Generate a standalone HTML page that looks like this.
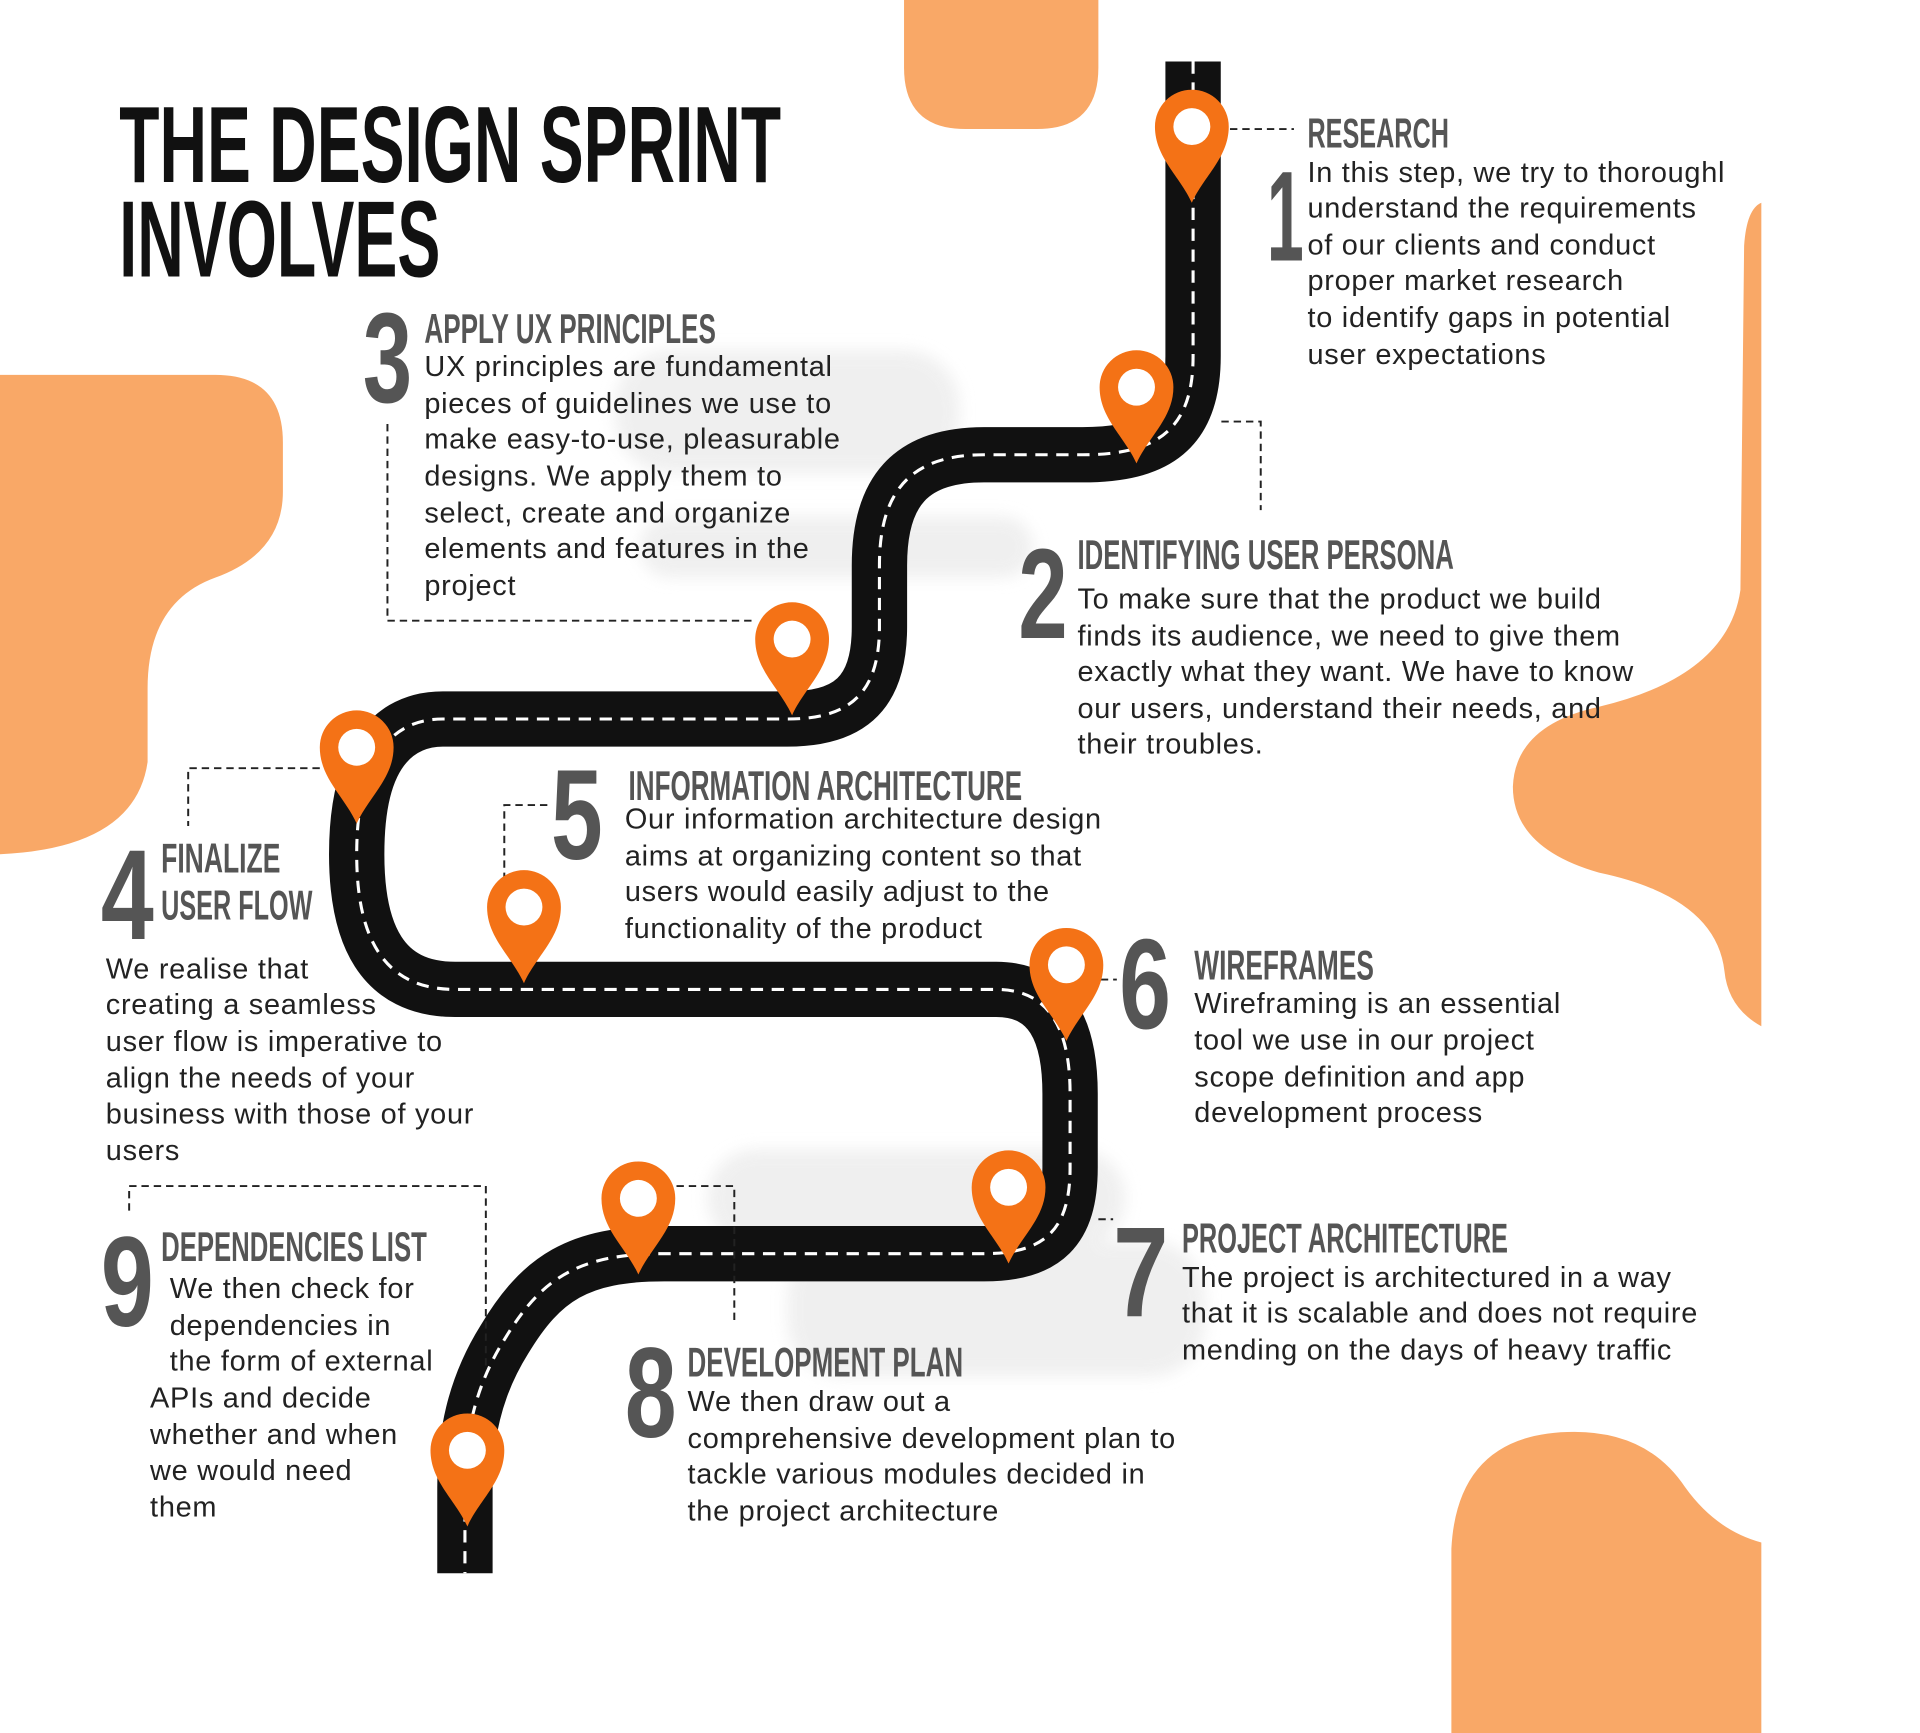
<!DOCTYPE html>
<html><head><meta charset="utf-8"><style>
html,body{margin:0;padding:0;background:#fff}
svg{display:block}
.h{font-family:"Liberation Sans",sans-serif;font-weight:bold;fill:#555;font-size:34px}
.n{font-family:"Liberation Sans",sans-serif;font-weight:bold;fill:#555;font-size:104px}
.b{font-family:"Liberation Sans",sans-serif;fill:#222;font-size:23.5px;letter-spacing:0.6px}
.t{font-family:"Liberation Sans",sans-serif;font-weight:bold;fill:#111;font-size:88px}
.d{fill:none;stroke:#222;stroke-width:1.6;stroke-dasharray:6 4}
</style></head><body>
<svg width="1920" height="1733" viewBox="0 0 1561 1410" preserveAspectRatio="none" xmlns="http://www.w3.org/2000/svg">
<defs>
<filter id="bl" x="-20%" y="-20%" width="140%" height="140%"><feGaussianBlur stdDeviation="6"/></filter>
<g id="pin"><path d="M0,62 C-10,40 -30,25 -30,0 A30,30 0 1 1 30,0 C30,25 10,40 0,62 Z" fill="#f47216"/><circle r="15" fill="#fff"/></g>
</defs>
<g fill="#f9a867">
<path d="M735,0 L893,0 L893,55 Q893,105 843,105 L785,105 Q735,105 735,55 Z"/>
<path d="M0,305 L175,305 Q230,305 230,360 L230,400 Q230,450 175,470 Q120,490 120,560 L120,620 Q110,690 0,695 Z"/>
<path d="M1432,165 L1432,835 Q1405,820 1402,790 Q1395,730 1300,710 Q1230,690 1230,640 Q1232,590 1300,575 Q1405,550 1415,480 L1418,200 Q1420,170 1432,165 Z"/>
<path d="M1432,1410 L1180,1410 L1180,1260 Q1185,1165 1280,1165 Q1340,1165 1370,1210 Q1395,1245 1432,1255 Z"/>
</g>
<g fill="#ececec" filter="url(#bl)" opacity="0.8">
<rect x="500" y="285" width="280" height="100" rx="45"/>
<rect x="520" y="420" width="320" height="50" rx="25"/>
<rect x="575" y="935" width="340" height="80" rx="40"/>
<rect x="640" y="1010" width="340" height="110" rx="45"/>
</g>
<path d="M970,50 L970,290 C970,350 940,370 880,370 L800,370 C740,370 715,400 715,460 L715,510 C715,565 690,585 640,585 L360,585 C310,585 290,630 290,695 C290,760 310,805 370,805 L810,805 C855,805 870,840 870,890 L870,950 C870,1000 850,1020 800,1020 L540,1020 C470,1020 440,1040 410,1090 C385,1130 378,1170 378,1210 L378,1280" fill="none" stroke="#111" stroke-width="45"/>
<path d="M970,50 L970,290 C970,350 940,370 880,370 L800,370 C740,370 715,400 715,460 L715,510 C715,565 690,585 640,585 L360,585 C310,585 290,630 290,695 C290,760 310,805 370,805 L810,805 C855,805 870,840 870,890 L870,950 C870,1000 850,1020 800,1020 L540,1020 C470,1020 440,1040 410,1090 C385,1130 378,1170 378,1210 L378,1280" fill="none" stroke="#fff" stroke-width="2.5" stroke-dasharray="10 7"/>
<path class="d" d="M1000,105 L1052,105"/>
<path class="d" d="M993,343 L1025,343 L1025,415"/>
<path class="d" d="M315,345 L315,505 L612,505"/>
<path class="d" d="M260,625 L153,625 L153,672"/>
<path class="d" d="M445,655 L410,655 L410,730"/>
<path class="d" d="M895,797 L908,797"/>
<path class="d" d="M893,992 L905,992"/>
<path class="d" d="M550,965 L597,965 L597,1075"/>
<path class="d" d="M105,985 L105,965 L395,965 L395,1115"/>
<use href="#pin" x="969" y="103"/>
<use href="#pin" x="924" y="315"/>
<use href="#pin" x="644" y="520"/>
<use href="#pin" x="290" y="608"/>
<use href="#pin" x="426" y="738"/>
<use href="#pin" x="867" y="785"/>
<use href="#pin" x="820" y="966"/>
<use href="#pin" x="519" y="975"/>
<use href="#pin" x="380" y="1180"/>
<text class="t" x="97" y="148" textLength="538" lengthAdjust="spacingAndGlyphs">THE DESIGN SPRINT</text>
<text class="t" x="97" y="225" textLength="261" lengthAdjust="spacingAndGlyphs">INVOLVES</text>
<text class="n" x="1030" y="212" textLength="30" lengthAdjust="spacingAndGlyphs">1</text>
<text class="n" x="295" y="327" textLength="40" lengthAdjust="spacingAndGlyphs">3</text>
<text class="n" x="828" y="519" textLength="40" lengthAdjust="spacingAndGlyphs">2</text>
<text class="n" x="448" y="699" textLength="42" lengthAdjust="spacingAndGlyphs">5</text>
<text class="n" x="82" y="764" textLength="43" lengthAdjust="spacingAndGlyphs">4</text>
<text class="n" x="910" y="837" textLength="42" lengthAdjust="spacingAndGlyphs">6</text>
<text class="n" x="905" y="1071" textLength="45" lengthAdjust="spacingAndGlyphs">7</text>
<text class="n" x="508" y="1169" textLength="42" lengthAdjust="spacingAndGlyphs">8</text>
<text class="n" x="82" y="1079" textLength="43" lengthAdjust="spacingAndGlyphs">9</text>
<text class="h" x="1063" y="120" textLength="115" lengthAdjust="spacingAndGlyphs">RESEARCH</text>
<text class="h" x="345" y="279" textLength="237" lengthAdjust="spacingAndGlyphs">APPLY UX PRINCIPLES</text>
<text class="h" x="876" y="463" textLength="306" lengthAdjust="spacingAndGlyphs">IDENTIFYING USER PERSONA</text>
<text class="h" x="511" y="651" textLength="320" lengthAdjust="spacingAndGlyphs">INFORMATION ARCHITECTURE</text>
<text class="h" x="131" y="710" textLength="97" lengthAdjust="spacingAndGlyphs">FINALIZE</text>
<text class="h" x="131" y="748" textLength="123" lengthAdjust="spacingAndGlyphs">USER FLOW</text>
<text class="h" x="971" y="797" textLength="146" lengthAdjust="spacingAndGlyphs">WIREFRAMES</text>
<text class="h" x="961" y="1019" textLength="265" lengthAdjust="spacingAndGlyphs">PROJECT ARCHITECTURE</text>
<text class="h" x="559" y="1120" textLength="224" lengthAdjust="spacingAndGlyphs">DEVELOPMENT PLAN</text>
<text class="h" x="131" y="1026" textLength="216" lengthAdjust="spacingAndGlyphs">DEPENDENCIES LIST</text>
<g class="b">
<text x="1063" y="148">In this step, we try to thoroughl</text>
<text x="1063" y="177">understand the requirements</text>
<text x="1063" y="207">of our clients and conduct</text>
<text x="1063" y="236">proper market research</text>
<text x="1063" y="266">to identify gaps in potential</text>
<text x="1063" y="296">user expectations</text>
<text x="345" y="306">UX principles are fundamental</text>
<text x="345" y="336">pieces of guidelines we use to</text>
<text x="345" y="365">make easy-to-use, pleasurable</text>
<text x="345" y="395">designs. We apply them to</text>
<text x="345" y="425">select, create and organize</text>
<text x="345" y="454">elements and features in the</text>
<text x="345" y="484">project</text>
<text x="876" y="495">To make sure that the product we build</text>
<text x="876" y="525">finds its audience, we need to give them</text>
<text x="876" y="554">exactly what they want. We have to know</text>
<text x="876" y="584">our users, understand their needs, and</text>
<text x="876" y="613">their troubles.</text>
<text x="508" y="674">Our information architecture design</text>
<text x="508" y="704">aims at organizing content so that</text>
<text x="508" y="733">users would easily adjust to the</text>
<text x="508" y="763">functionality of the product</text>
<text x="86" y="796">We realise that</text>
<text x="86" y="825">creating a seamless</text>
<text x="86" y="855">user flow is imperative to</text>
<text x="86" y="885">align the needs of your</text>
<text x="86" y="914">business with those of your</text>
<text x="86" y="944">users</text>
<text x="971" y="824">Wireframing is an essential</text>
<text x="971" y="854">tool we use in our project</text>
<text x="971" y="884">scope definition and app</text>
<text x="971" y="913">development process</text>
<text x="961" y="1047">The project is architectured in a way</text>
<text x="961" y="1076">that it is scalable and does not require</text>
<text x="961" y="1106">mending on the days of heavy traffic</text>
<text x="559" y="1148">We then draw out a</text>
<text x="559" y="1178">comprehensive development plan to</text>
<text x="559" y="1207">tackle various modules decided in</text>
<text x="559" y="1237">the project architecture</text>
<text x="138" y="1056">We then check for</text>
<text x="138" y="1086">dependencies in</text>
<text x="138" y="1115">the form of external</text>
<text x="122" y="1145">APIs and decide</text>
<text x="122" y="1175">whether and when</text>
<text x="122" y="1204">we would need</text>
<text x="122" y="1234">them</text>
</g>
</svg>
</body></html>
